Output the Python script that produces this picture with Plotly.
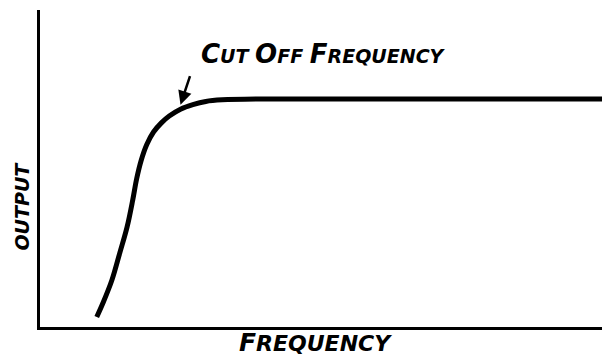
import plotly.graph_objects as go

# Response curve of a high-pass stage: output vs frequency
frequency = [1.01, 1.12, 1.28, 1.42, 1.55, 1.65, 1.72, 1.80, 1.90, 2.02, 2.16, 2.30, 2.50, 2.72, 2.95, 3.24, 3.91, 10.0]
output = [0.044, 0.105, 0.206, 0.325, 0.439, 0.557, 0.650, 0.730, 0.800, 0.855, 0.895, 0.925, 0.955, 0.975, 0.989, 0.996, 1.0, 1.0]

# Knee of the curve marked by the arrow
cutoff_freq = 2.5
cutoff_out = 0.975

x_title = "F<span style='font-size:22px'>REQUENCY</span>"
y_title = "OUTPUT"
cutoff_label = ("<span style='font-size:26px'>C</span>UT "
                "<span style='font-size:26px'>O</span>FF "
                "<span style='font-size:26px'>F</span>REQUENCY")

hand = dict(family="DejaVu Sans", color="black", weight="bold", style="italic")

fig = go.Figure()
fig.add_trace(go.Scatter(
    x=frequency, y=output, mode="lines",
    line=dict(color="black", width=5, shape="spline", smoothing=1.0),
    hoverinfo="skip", showlegend=False, cliponaxis=False,
))

fig.add_annotation(
    x=cutoff_freq, y=cutoff_out, xref="x", yref="y",
    ax=10, ay=-30, showarrow=True, arrowhead=2, arrowsize=1.1,
    arrowwidth=2.5, arrowcolor="black", text="",
)
fig.add_annotation(
    x=0.504, y=0.86, xref="paper", yref="paper", text=cutoff_label, showarrow=False,
    font=dict(size=19, **hand), xanchor="center", yanchor="middle",
)
fig.add_annotation(
    x=0.490, y=-0.05, xref="paper", yref="paper", text=x_title, showarrow=False,
    font=dict(size=25, **hand), xanchor="center", yanchor="middle",
)
fig.add_annotation(
    x=-0.032, y=0.38, xref="paper", yref="paper", text=y_title, showarrow=False,
    textangle=-90, font=dict(size=19, **hand), xanchor="center", yanchor="middle",
)

fig.update_xaxes(range=[0, 10], showline=True, linecolor="black", linewidth=3,
                 showgrid=False, zeroline=False, showticklabels=False, ticks="")
fig.update_yaxes(range=[0, 1.39], showline=True, linecolor="black", linewidth=3,
                 showgrid=False, zeroline=False, showticklabels=False, ticks="")

fig.update_layout(
    width=602, height=361,
    margin=dict(l=40, r=0, t=10, b=34),
    paper_bgcolor="white", plot_bgcolor="white",
)

fig.write_html("out.html")
